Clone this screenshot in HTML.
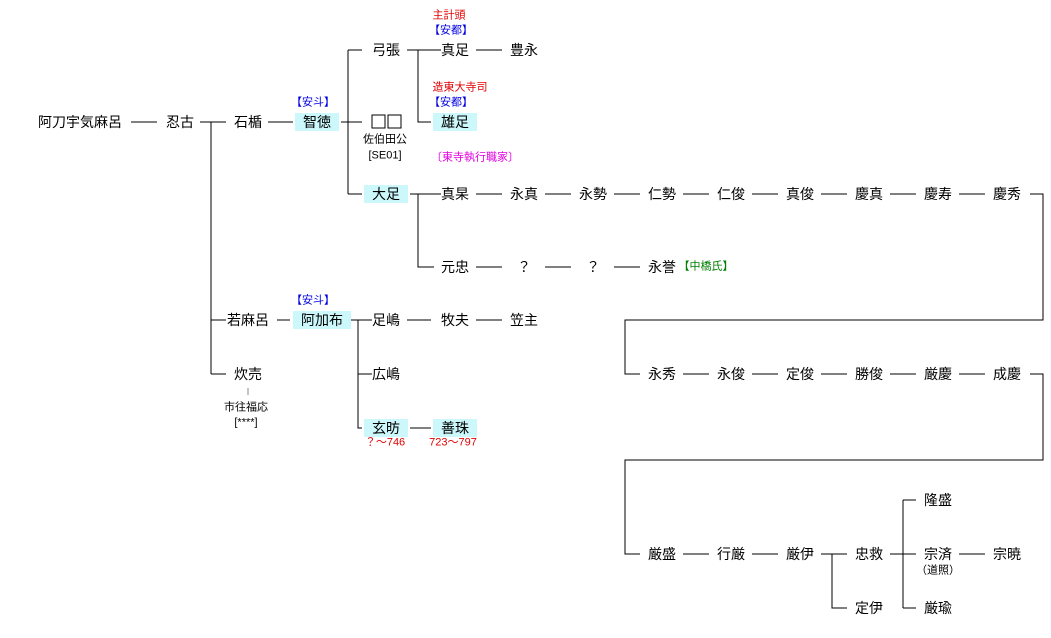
<!DOCTYPE html>
<html><head><meta charset="utf-8"><style>
body{margin:0;width:1051px;height:638px;background:#fff;position:relative;overflow:hidden;font-family:"Liberation Sans","Noto Sans CJK JP",sans-serif;}
.t{position:absolute;transform:translate(-50%,-50%);font-size:14px;white-space:nowrap;color:#000;line-height:18px;}
.b{background:#ccf8fb;padding:0 8px;}
.s{font-size:11px;line-height:13px;}
.r{color:#e00000}.bl{color:#0000e0}.m{color:#e000e0}.g{color:#008000}
svg{position:absolute;left:0;top:0}
</style></head><body>
<svg width="1051" height="638" stroke="#000" stroke-width="1" fill="none" shape-rendering="crispEdges">
<path d="M131 122H157M200 122H226M211 122V374M211 320H226M211 374H226M268 122H293"/>
<path d="M341 122H362M348 50V194M348 50H362M348 194H362"/>
<path d="M407 50H441M418 50V122H431M476 50H502"/>
<path d="M410 194H441M418 194V267H434"/>
<path d="M476 194H502M545 194H571M614 194H640M683 194H709M752 194H778M821 194H847M890 194H916M959 194H985M1030 194H1043V320H625V374H640"/>
<path d="M476 267H502M545 267H571M614 267H640"/>
<path d="M683 374H709M752 374H778M821 374H847M890 374H916M959 374H985M1030 374H1043V460H625V554H640"/>
<path d="M683 554H709M752 554H778M821 554H847M832 554V608H847M890 554H916M903 500V608M903 500H916M903 608H916M959 554H985"/>
<path d="M277 320H290M347 320H372M358 320V428H362M358 374H372M410 428H431M407 320H431M476 320H502"/>
<path d="M248 388V395" stroke="#888"/>
<rect x="372" y="115" width="13" height="13"/><rect x="388" y="115" width="13" height="13"/>
</svg>
<div class="t" style="left:80px;top:122px">阿刀宇気麻呂</div>
<div class="t" style="left:180px;top:122px">忍古</div>
<div class="t" style="left:248px;top:122px">石楯</div>
<div class="t s bl" style="left:313px;top:103px">【安斗】</div>
<div class="t b" style="left:317px;top:122px">智徳</div>
<div class="t" style="left:386px;top:50px">弓張</div>
<div class="t s" style="left:385px;top:140px">佐伯田公</div>
<div class="t s" style="left:385px;top:156px">[SE01]</div>
<div class="t b" style="left:386px;top:194px">大足</div>
<div class="t s r" style="left:449px;top:16px">主計頭</div>
<div class="t s bl" style="left:451px;top:31px">【安都】</div>
<div class="t" style="left:455px;top:50px">真足</div>
<div class="t" style="left:524px;top:50px">豊永</div>
<div class="t s r" style="left:460px;top:88px">造東大寺司</div>
<div class="t s bl" style="left:451px;top:103px">【安都】</div>
<div class="t b" style="left:455px;top:122px">雄足</div>
<div class="t s m" style="left:475px;top:158px">〔東寺執行職家〕</div>
<div class="t" style="left:455px;top:194px">真杲</div>
<div class="t" style="left:524px;top:194px">永真</div>
<div class="t" style="left:593px;top:194px">永勢</div>
<div class="t" style="left:662px;top:194px">仁勢</div>
<div class="t" style="left:731px;top:194px">仁俊</div>
<div class="t" style="left:800px;top:194px">真俊</div>
<div class="t" style="left:869px;top:194px">慶真</div>
<div class="t" style="left:938px;top:194px">慶寿</div>
<div class="t" style="left:1007px;top:194px">慶秀</div>
<div class="t" style="left:455px;top:267px">元忠</div>
<div class="t" style="left:524px;top:267px">？</div>
<div class="t" style="left:593px;top:267px">？</div>
<div class="t" style="left:662px;top:267px">永誉</div>
<div class="t s g" style="left:706px;top:267px">【中橋氏】</div>
<div class="t" style="left:248px;top:320px">若麻呂</div>
<div class="t s bl" style="left:313px;top:301px">【安斗】</div>
<div class="t b" style="left:322px;top:320px">阿加布</div>
<div class="t" style="left:386px;top:320px">足嶋</div>
<div class="t" style="left:455px;top:320px">牧夫</div>
<div class="t" style="left:524px;top:320px">笠主</div>
<div class="t" style="left:248px;top:374px">炊売</div>
<div class="t s" style="left:246px;top:408px">市往福応</div>
<div class="t s" style="left:246px;top:423px">[****]</div>
<div class="t" style="left:386px;top:374px">広嶋</div>
<div class="t b" style="left:386px;top:428px">玄昉</div>
<div class="t b" style="left:455px;top:428px">善珠</div>
<div class="t s r" style="left:385px;top:443px">？～746</div>
<div class="t s r" style="left:453px;top:443px">723～797</div>
<div class="t" style="left:662px;top:374px">永秀</div>
<div class="t" style="left:731px;top:374px">永俊</div>
<div class="t" style="left:800px;top:374px">定俊</div>
<div class="t" style="left:869px;top:374px">勝俊</div>
<div class="t" style="left:938px;top:374px">厳慶</div>
<div class="t" style="left:1007px;top:374px">成慶</div>
<div class="t" style="left:662px;top:554px">厳盛</div>
<div class="t" style="left:731px;top:554px">行厳</div>
<div class="t" style="left:800px;top:554px">厳伊</div>
<div class="t" style="left:869px;top:554px">忠救</div>
<div class="t" style="left:869px;top:608px">定伊</div>
<div class="t" style="left:938px;top:500px">隆盛</div>
<div class="t" style="left:938px;top:554px">宗済</div>
<div class="t s" style="left:938px;top:571px">（道照）</div>
<div class="t" style="left:938px;top:608px">厳瑜</div>
<div class="t" style="left:1007px;top:554px">宗暁</div>
</body></html>
